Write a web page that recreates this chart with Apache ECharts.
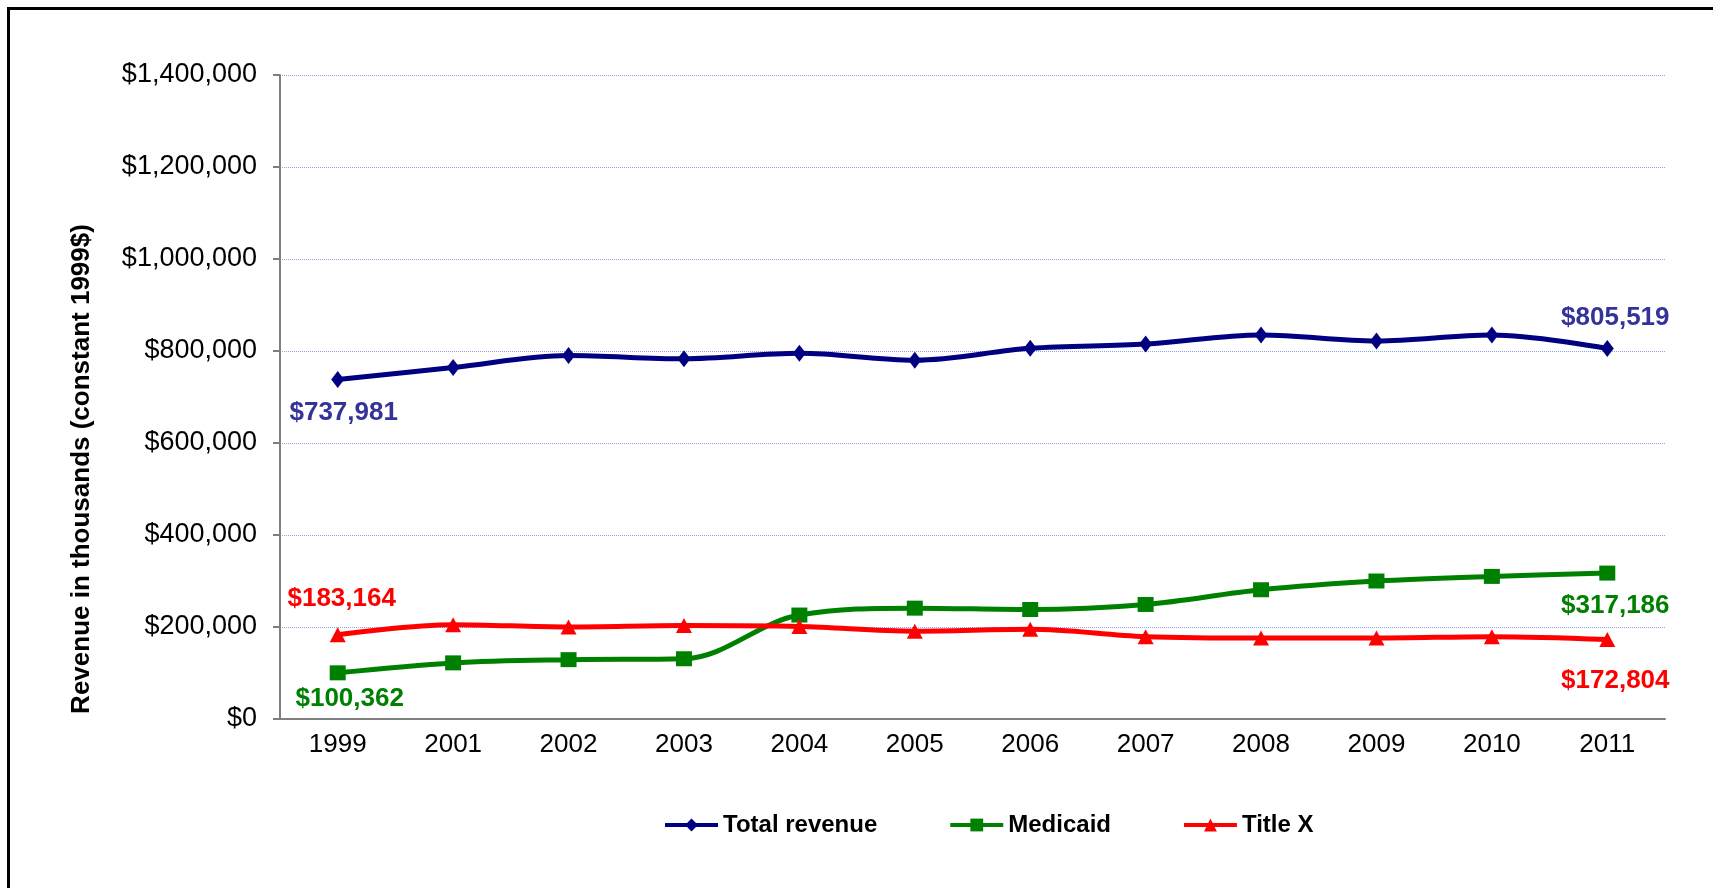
<!DOCTYPE html>
<html>
<head>
<meta charset="utf-8">
<script src="https://cdn.jsdelivr.net/npm/echarts@6/dist/echarts.min.js"></script>
<style>
  html, body { margin: 0; padding: 0; background: #fff; overflow: hidden; }
  #chart { position: absolute; left: 0; top: 0; width: 1713px; height: 888px; }
  #frame { position: absolute; left: 7px; top: 7px; width: 1800px; height: 1000px;
           border-left: 3px solid #000; border-top: 3px solid #000; pointer-events: none; z-index: 5; }
</style>
</head>
<body>
<div id="chart"></div>
<div id="frame"></div>
<script>
const years = ['1999','2001','2002','2003','2004','2005','2006','2007','2008','2009','2010','2011'];
const totalRevenue = [737981, 764000, 790000, 783000, 795000, 780000, 806000, 815000, 835000, 822000, 835000, 805519];
const medicaid = [100362, 122000, 129000, 131000, 226000, 241000, 238000, 249000, 281000, 300000, 310000, 317186];
const titleX = [183164, 205000, 200000, 203000, 201000, 191000, 195000, 179000, 176000, 176000, 179000, 172804];
const seriesNames = ['Total revenue', 'Medicaid', 'Title X'];
const yTickValues = [0, 200000, 400000, 600000, 800000, 1000000, 1200000, 1400000];

const FONT = '"Liberation Sans", Arial, sans-serif';
const fmt = v => '$' + Number(v).toLocaleString('en-US');

function withEndLabels(values, color, firstOffset, lastOffset) {
  const last = values.length - 1;
  return values.map((v, i) => {
    if (i !== 0 && i !== last) return v;
    return {
      value: v,
      label: {
        show: true,
        position: 'inside',
        offset: i === 0 ? firstOffset : lastOffset,
        align: 'center',
        verticalAlign: 'middle',
        formatter: p => fmt(p.value),
        color: color,
        fontFamily: FONT,
        fontWeight: 'bold',
        fontSize: 26
      }
    };
  });
}

const chart = echarts.init(document.getElementById('chart'), null, { renderer: 'canvas' });
chart.setOption({
  backgroundColor: '#ffffff',
  animation: false,
  grid: { left: 280, right: 48, top: 75, bottom: 169, containLabel: false },
  legend: {
    data: seriesNames,
    left: 658,
    top: 808,
    itemWidth: 53,
    itemHeight: 16,
    itemGap: 71,
    lineStyle: { width: 4 },
    textStyle: { fontFamily: FONT, fontWeight: 'bold', fontSize: 24, color: '#000' }
  },
  xAxis: {
    type: 'category',
    data: years,
    boundaryGap: true,
    axisLine: { lineStyle: { color: '#808080', width: 2 } },
    axisTick: { show: false },
    axisLabel: { fontFamily: FONT, fontSize: 26, color: '#000', margin: 13 }
  },
  yAxis: {
    type: 'value',
    min: yTickValues[0],
    max: yTickValues[yTickValues.length - 1],
    interval: yTickValues[1] - yTickValues[0],
    axisLine: { show: true, lineStyle: { color: '#808080', width: 2 } },
    axisTick: { show: true, length: 7, lineStyle: { color: '#808080', width: 2 } },
    axisLabel: { fontFamily: FONT, fontSize: 27, color: '#000', margin: 23, formatter: fmt },
    splitLine: { show: true, lineStyle: { color: '#8da2f0', type: 'dotted', width: 1 } }
  },
  graphic: [{
    type: 'text',
    x: 82, y: 469,
    rotation: Math.PI / 2,
    style: {
      text: 'Revenue in thousands (constant 1999$)',
      fontFamily: FONT, fontWeight: 'bold', fontSize: 26, fill: '#000',
      align: 'center', verticalAlign: 'middle'
    }
  }],
  series: [
    {
      name: seriesNames[0], type: 'line', smooth: 0.35,
      symbol: 'diamond', symbolSize: [13, 17],
      lineStyle: { color: '#000080', width: 5 },
      itemStyle: { color: '#000080' },
      data: withEndLabels(totalRevenue, '#333399', [6, 33], [8, -31]),
      z: 3
    },
    {
      name: seriesNames[1], type: 'line', smooth: 0.35,
      symbol: 'rect', symbolSize: [16, 15],
      lineStyle: { color: '#008000', width: 5 },
      itemStyle: { color: '#008000' },
      data: withEndLabels(medicaid, '#008000', [12, 26], [8, 33]),
      z: 2
    },
    {
      name: seriesNames[2], type: 'line', smooth: 0.35,
      symbol: 'triangle', symbolSize: [16, 15],
      lineStyle: { color: '#ff0000', width: 5 },
      itemStyle: { color: '#ff0000' },
      data: withEndLabels(titleX, '#ff0000', [4, -36], [8, 41]),
      z: 4
    }
  ]
});
</script>
</body>
</html>
